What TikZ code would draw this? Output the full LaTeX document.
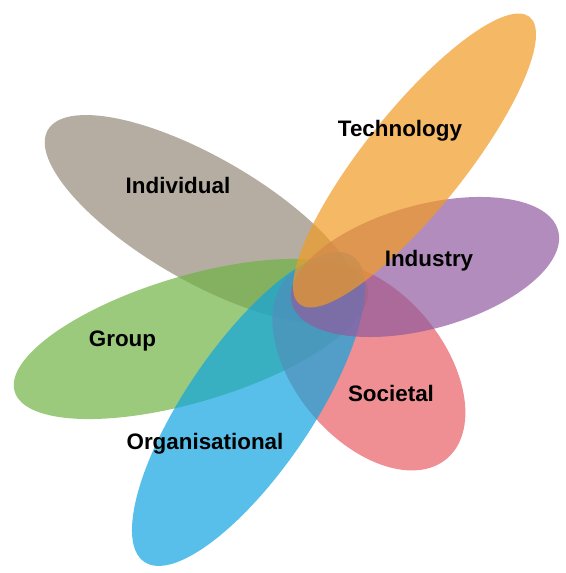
\documentclass[tikz,border=0pt]{standalone}
\usepackage{fontspec}
\setmainfont{Liberation Sans}
\begin{document}
\begin{tikzpicture}[x=1pt,y=1pt,
  petal/.style={fill opacity=0.7},
  lbl/.style={font=\fontsize{22.4}{26}\selectfont\bfseries, text=black, anchor=base, inner sep=0pt}]
\definecolor{cIndividual}{RGB}{149,138,122}
\definecolor{cTechnology}{RGB}{241,155,36}
\definecolor{cIndustry}{RGB}{145,91,159}
\definecolor{cSocietal}{RGB}{232,95,101}
\definecolor{cOrganisational}{RGB}{16,164,224}
\definecolor{cGroup}{RGB}{112,179,68}
\useasboundingbox (0,0) rectangle (565,573);
% petals, back to front
\fill[petal, cIndividual, rotate around={-30:(202,354)}] (202,354) ellipse [x radius=178, y radius=62];
\fill[petal, cGroup, rotate around={16.6:(191,234)}] (191,234) ellipse [x radius=184, y radius=63];
\fill[petal, cSocietal, rotate around={-50:(368.9,206.9)}] (368.9,206.9) ellipse [x radius=121, y radius=74.5];
\fill[petal, cOrganisational, rotate around={55.7:(248.5,164)}] (248.5,164) ellipse [x radius=185, y radius=63];
\fill[petal, cIndustry, rotate around={15.3:(425,306)}] (425,306) ellipse [x radius=138, y radius=62];
\fill[petal, cTechnology, rotate around={51.3:(414.5,412.5)}] (414.5,412.5) ellipse [x radius=184, y radius=50];
% labels
\node[lbl] (technology) at (400,436) {Technology};
\node[lbl] (individual) at (178,379) {Individual};
\node[lbl] (industry) at (429,306.3) {Industry};
\node[lbl] (group) at (122.5,226.3) {Group};
\node[lbl] (societal) at (391,171.3) {Societal};
\node[lbl] (organisational) at (205,123.7) {Organisational};
\end{tikzpicture}
\end{document}
